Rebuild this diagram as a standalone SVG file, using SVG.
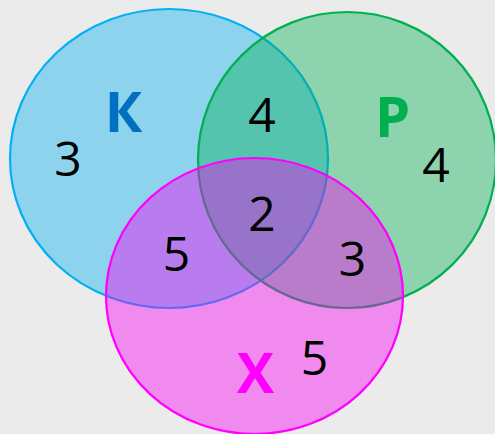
<svg xmlns="http://www.w3.org/2000/svg" width="495" height="434" viewBox="0 0 495 434">
<style>
.set{stroke-width:2.2}
.num{font-family:"Open Sans","Liberation Sans",sans-serif;font-size:48px;fill:#000;text-anchor:middle}
.lbl{font-family:"Open Sans","Liberation Sans",sans-serif;font-size:56px;font-weight:bold;text-anchor:middle}
</style>
<rect width="495" height="434" fill="#ebebeb"/>
<g id="set-K">
<ellipse class="set" cx="169" cy="158.5" rx="159" ry="149.5" fill="#00B0F0" fill-opacity="0.4" stroke="#00B0F0"/>
<text class="lbl" x="123.5" y="132" fill="#0070C0">К</text>
</g>
<g id="set-P">
<ellipse class="set" cx="347" cy="160" rx="149" ry="148" fill="#00B050" fill-opacity="0.4" stroke="#00B050"/>
<text class="lbl" x="392.5" y="137" fill="#00B050">Р</text>
</g>
<g id="set-X">
<ellipse class="set" cx="254.5" cy="296" rx="148.5" ry="138" fill="#F800F4" fill-opacity="0.41" stroke="#FF00FF"/>
<text class="lbl" x="255.5" y="393" fill="#FF00FF">Х</text>
</g>
<g id="counts">
<text class="num" x="68" y="176">3</text>
<text class="num" x="262" y="132">4</text>
<text class="num" x="436" y="182">4</text>
<text class="num" x="262" y="231">2</text>
<text class="num" x="176.5" y="271">5</text>
<text class="num" x="352.5" y="276">3</text>
<text class="num" x="314.5" y="375">5</text>
</g>
</svg>
